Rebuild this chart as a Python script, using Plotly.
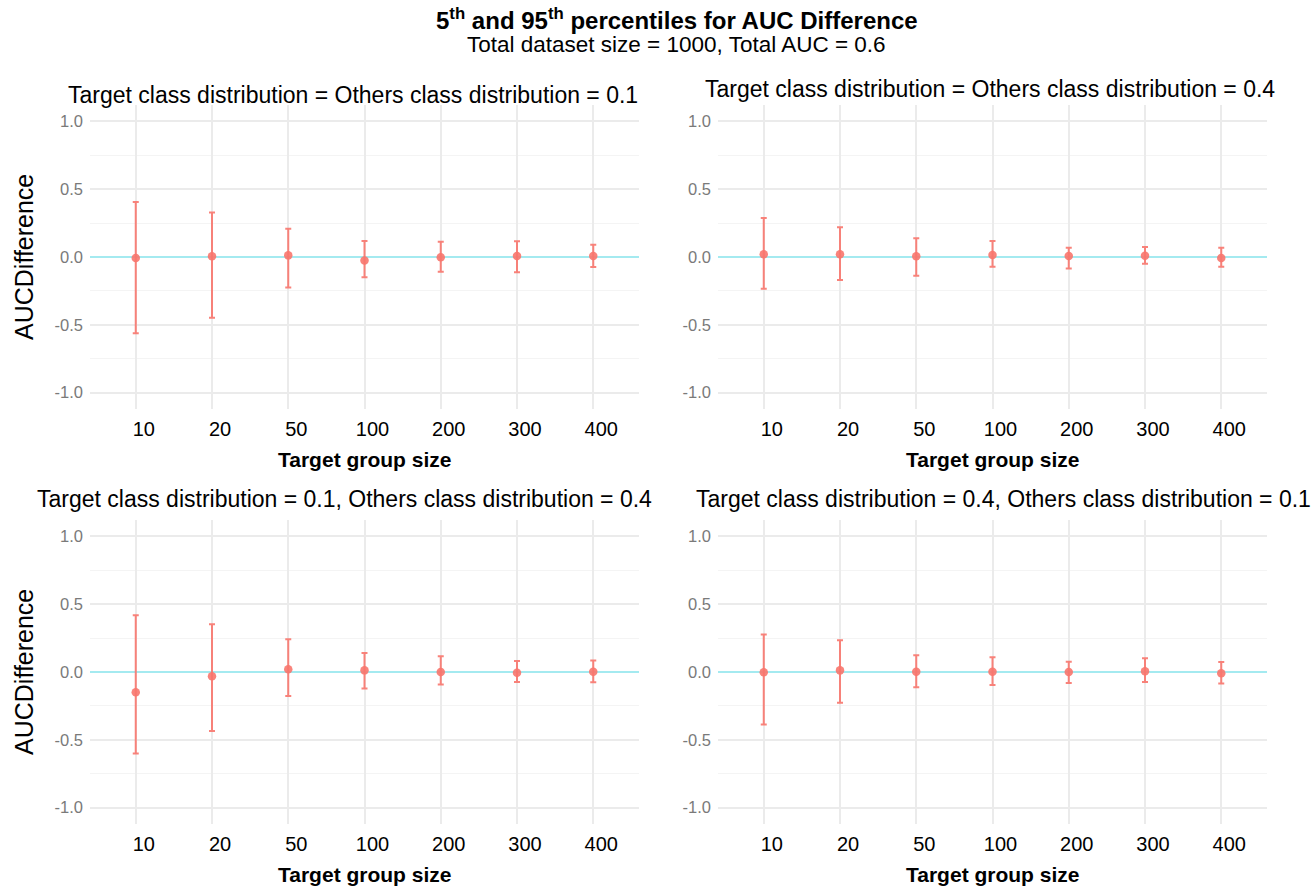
import plotly.graph_objects as go

sizes = ["10", "20", "50", "100", "200", "300", "400"]

panel_titles = [
    "Target class distribution = Others class distribution = 0.1",
    "Target class distribution = Others class distribution = 0.4",
    "Target class distribution = 0.1, Others class distribution = 0.4",
    "Target class distribution = 0.4, Others class distribution = 0.1",
]

# panel 1: target = others = 0.1
mean_1 = [-0.007, 0.005, 0.012, -0.025, -0.002, 0.007, 0.007]
low_1 = [-0.561, -0.448, -0.224, -0.150, -0.108, -0.113, -0.074]
high_1 = [0.406, 0.327, 0.209, 0.118, 0.113, 0.116, 0.091]

# panel 2: target = others = 0.4
mean_2 = [0.020, 0.020, 0.005, 0.015, 0.007, 0.010, -0.007]
low_2 = [-0.234, -0.170, -0.138, -0.071, -0.084, -0.049, -0.071]
high_2 = [0.288, 0.219, 0.138, 0.118, 0.069, 0.074, 0.069]

# panel 3: target 0.1, others 0.4
mean_3 = [-0.150, -0.032, 0.020, 0.012, 0.000, -0.005, 0.002]
low_3 = [-0.600, -0.435, -0.177, -0.121, -0.093, -0.074, -0.076]
high_3 = [0.418, 0.352, 0.241, 0.140, 0.116, 0.081, 0.084]

# panel 4: target 0.4, others 0.1
mean_4 = [-0.002, 0.012, 0.002, 0.002, 0.000, 0.005, -0.010]
low_4 = [-0.386, -0.226, -0.113, -0.096, -0.081, -0.074, -0.084]
high_4 = [0.276, 0.234, 0.123, 0.108, 0.076, 0.101, 0.074]

reference_value = 0.0

y_ticks = [-1.0, -0.5, 0.0, 0.5, 1.0]
y_tick_text = ["-1.0", "-0.5", "0.0", "0.5", "1.0"]

W, H = 1313, 888
RED = "rgba(248,118,109,0.9)"
CYAN = "#A4EAF0"
FONT = "Liberation Sans, Arial, Helvetica, sans-serif"

panels = [
    (mean_1, low_1, high_1),
    (mean_2, low_2, high_2),
    (mean_3, low_3, high_3),
    (mean_4, low_4, high_4),
]

positions = list(range(len(sizes)))
x_range = [-0.6, len(sizes) - 1 + 0.6]

# pixel boxes of the plot areas: (left, right, top, bottom)
boxes = [
    (90, 639, 105, 409),
    (718, 1267, 105, 409),
    (90, 639, 520, 824),
    (718, 1267, 520, 824),
]
title_pos = [(353, 95), (990, 89), (344, 499), (1003, 499)]

fig = go.Figure()
layout = dict(
    width=W, height=H,
    margin=dict(l=0, r=0, t=0, b=0),
    paper_bgcolor="white", plot_bgcolor="white",
    showlegend=False,
    font=dict(family=FONT, color="black"),
)
annotations = []

for i, ((m, lo, hi), (l, r, t, b)) in enumerate(zip(panels, boxes)):
    k = "" if i == 0 else str(i + 1)
    xa, ya = "x" + k, "y" + k
    # horizontal reference line at zero (drawn first, under the bars)
    fig.add_trace(go.Scatter(
        x=x_range, y=[reference_value, reference_value], xaxis=xa, yaxis=ya,
        mode="lines", line=dict(color=CYAN, width=2.2), hoverinfo="skip",
    ))
    fig.add_trace(go.Scatter(
        x=positions, y=m, xaxis=xa, yaxis=ya, mode="markers",
        marker=dict(color=RED, size=8.5),
        error_y=dict(type="data", symmetric=False,
                     array=[h - v for h, v in zip(hi, m)],
                     arrayminus=[v - q for v, q in zip(m, lo)],
                     color=RED, thickness=2, width=3),
        text=sizes, hovertemplate="%{text}: %{y}<extra></extra>",
    ))
    layout["xaxis" + k] = dict(
        domain=[l / W, r / W], anchor=ya,
        range=x_range, tickvals=positions, ticktext=sizes,
        showgrid=True, gridcolor="#EBEBEB", gridwidth=1.5,
        zeroline=False, showline=False, ticks="",
        tickfont=dict(size=20, color="black", family=FONT),
        ticklabelstandoff=6, ticklabelshift=8,
    )
    layout["yaxis" + k] = dict(
        domain=[1 - b / H, 1 - t / H], anchor=xa,
        range=[-1.12, 1.12], tickvals=y_ticks, ticktext=y_tick_text,
        showgrid=True, gridcolor="#EBEBEB", gridwidth=1.5,
        minor=dict(tickvals=[-0.75, -0.25, 0.25, 0.75], showgrid=True,
                   gridcolor="#F4F4F4", gridwidth=1.2, ticks=""),
        zeroline=False, showline=False, ticks="",
        tickfont=dict(size=16.5, color="#7A7A7A", family=FONT),
        ticklabelstandoff=6,
    )
    # panel title
    cx, cy = title_pos[i]
    annotations.append(dict(text=panel_titles[i], xref="paper", yref="paper",
                            x=cx / W, y=1 - cy / H, xanchor="center", yanchor="middle",
                            showarrow=False, font=dict(size=23, color="black")))
    # x axis title
    annotations.append(dict(text="<b>Target group size</b>", xref=xa + " domain", yref="paper",
                            x=0.5, y=1 - (b + 50) / H, xanchor="center", yanchor="middle",
                            showarrow=False, font=dict(size=21, color="black")))
    # y axis title (left column only)
    if i in (0, 2):
        annotations.append(dict(text="AUCDifference", xref="paper", yref=ya,
                                x=24 / W, y=0, xanchor="center", yanchor="middle",
                                textangle=-90, showarrow=False,
                                font=dict(size=25, color="black")))

annotations.append(dict(text="<b>5<sup>th</sup> and 95<sup>th</sup> percentiles for AUC Difference</b>",
                        xref="paper", yref="paper", x=677 / W, y=1 - 19 / H,
                        xanchor="center", yanchor="middle", showarrow=False,
                        font=dict(size=24, color="black")))
annotations.append(dict(text="Total dataset size = 1000, Total AUC = 0.6",
                        xref="paper", yref="paper", x=676 / W, y=1 - 45 / H,
                        xanchor="center", yanchor="middle", showarrow=False,
                        font=dict(size=22.5, color="black")))

layout["annotations"] = annotations
fig.update_layout(**layout)
fig.write_html("out.html", config={"displayModeBar": False},
               post_script="document.body.style.margin='0';")
